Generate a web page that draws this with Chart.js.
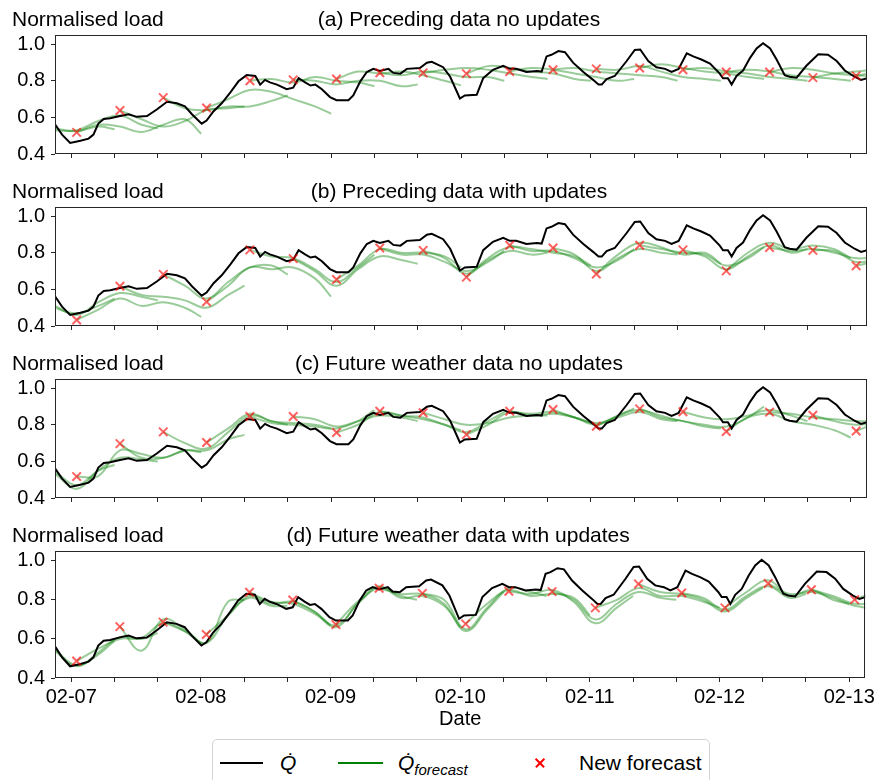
<!DOCTYPE html>
<html><head><meta charset="utf-8">
<script src="https://cdn.jsdelivr.net/npm/chart.js@4.4.1/dist/chart.umd.min.js"></script>
<style>
html,body{margin:0;padding:0;background:#fff;}
body{width:878px;height:780px;overflow:hidden;position:relative;font-family:"Liberation Sans",Arial,Helvetica,sans-serif;color:#000;}
canvas{position:absolute;left:0;}
#legend{position:absolute;left:212px;top:739px;width:498px;height:60px;border:1px solid #d3d3d3;border-radius:5px;background:#fff;box-sizing:border-box;z-index:5;}
#legend .ln{position:absolute;height:2px;top:22px;}
#legend .lt{position:absolute;top:12px;font-size:21px;line-height:21px;white-space:nowrap;}
#legend .lt sub{font-size:15px;font-style:italic;vertical-align:baseline;position:relative;top:5px;}
#legend .xm{position:absolute;left:322px;top:18px;width:10px;height:10px;}
#legend .xm:before,#legend .xm:after{content:"";position:absolute;left:-1px;top:4px;width:12px;height:1.6px;background:#ff0000;}
#legend .xm:before{transform:rotate(45deg);}
#legend .xm:after{transform:rotate(-45deg);}
</style>
</head><body>
<canvas id="pa" width="878" height="172" style="top:0px"></canvas>
<canvas id="pb" width="878" height="172" style="top:172px"></canvas>
<canvas id="pc" width="878" height="172" style="top:344px"></canvas>
<canvas id="pd" width="878" height="264" style="top:516px"></canvas>
<div id="legend">
  <div class="ln" style="left:7px;width:43px;background:#000;"></div>
  <span class="lt" style="left:67px;"><i>Q&#775;</i></span>
  <div class="ln" style="left:125px;width:45px;background:#008000;"></div>
  <span class="lt" style="left:185px;"><i>Q&#775;</i><sub>forecast</sub></span>
  <div class="xm"></div>
  <span class="lt" style="left:366px;">New forecast</span>
</div>
<script>
// ---------------- data ----------------
const dateLabels = ['02-07','02-08','02-09','02-10','02-11','02-12','02-13'];
const tickHours = [0,8,16,24,32,40,48,56,64,72,80,88,96,104,112,120,128,136,144];
const yTicks = [0.4,0.6,0.8,1.0];
const panelTitles = ['(a) Preceding data no updates','(b) Preceding data with updates','(c) Future weather data no updates','(d) Future weather data with updates'];

// actual normalised load (hours since 02-07 00:00)
const qHours = [-3,-1.7,-0.2,1.7,3.2,4.1,5.0,6.0,7.2,9.0,10.6,12.1,14.0,15.8,17.7,19.5,21.0,22.3,24.1,25.0,26.3,27.8,29.4,30.9,32.4,34.0,34.9,35.8,36.7,38.0,39.8,41.0,42.0,43.2,44.2,45.1,46.3,47.8,49.0,51.2,52.1,53.4,54.6,55.8,57.0,58.6,59.5,60.8,62.0,64.4,65.7,66.6,68.7,70.0,71.8,72.7,74.9,76.1,77.9,79.8,81.0,82.2,84.1,86.0,86.9,87.8,88.7,90.0,91.2,92.7,94.6,96.4,97.4,98.0,98.9,100.4,102.6,104.1,105.1,106.6,108.1,109.7,110.9,112.2,113.7,114.9,116.4,118.0,119.8,120.4,121.3,122.0,122.9,124.1,125.4,126.6,127.8,129.1,130.3,131.8,132.7,134.0,135.8,138.0,139.8,141.4,142.9,144.7,145.9,147];
const qLoad = [0.562,0.506,0.460,0.472,0.484,0.506,0.566,0.591,0.595,0.608,0.617,0.603,0.607,0.643,0.685,0.677,0.660,0.617,0.566,0.583,0.634,0.677,0.737,0.797,0.831,0.826,0.779,0.805,0.791,0.779,0.754,0.762,0.814,0.791,0.774,0.779,0.754,0.711,0.694,0.694,0.720,0.797,0.848,0.865,0.853,0.865,0.843,0.839,0.865,0.870,0.899,0.904,0.874,0.822,0.703,0.720,0.723,0.814,0.860,0.882,0.865,0.865,0.848,0.853,0.850,0.933,0.942,0.962,0.956,0.899,0.848,0.805,0.779,0.779,0.809,0.826,0.908,0.968,0.971,0.908,0.874,0.865,0.848,0.865,0.950,0.933,0.916,0.894,0.839,0.814,0.814,0.779,0.826,0.856,0.925,0.976,1.005,0.976,0.916,0.831,0.822,0.817,0.882,0.945,0.942,0.908,0.856,0.822,0.805,0.814];

// forecasts: issue hours, sample offsets (hours after issue)
const forecastStartHours = [-15,-7,1,9,17,25,33,41,49,57,65,73,81,89,97,105,113,121,129,137,145];
const forecastOffsetHours = [0,4,8,12,16,20,23];

const forecastsA = [
 [0.58,0.57,0.56,0.54,0.525,0.55,0.535],
 [0.55,0.53,0.53,0.58,0.61,0.56,0.54],
 [0.518,0.56,0.55,0.52,0.56,0.59,0.51],
 [0.638,0.59,0.55,0.58,0.64,0.65,0.66],
 [0.708,0.65,0.64,0.66,0.66,0.69,0.72],
 [0.651,0.70,0.75,0.74,0.70,0.66,0.62],
 [0.800,0.81,0.79,0.82,0.80,0.79,0.77],
 [0.805,0.80,0.78,0.80,0.80,0.77,0.78],
 [0.810,0.85,0.84,0.85,0.83,0.80,0.775],
 [0.844,0.83,0.85,0.84,0.82,0.82,0.80],
 [0.843,0.86,0.87,0.86,0.84,0.82,0.81],
 [0.839,0.88,0.87,0.85,0.84,0.81,0.80],
 [0.851,0.87,0.86,0.84,0.82,0.80,0.81],
 [0.860,0.87,0.85,0.84,0.83,0.82,0.80],
 [0.865,0.86,0.88,0.85,0.82,0.81,0.80],
 [0.870,0.89,0.87,0.85,0.84,0.82,0.81],
 [0.860,0.87,0.85,0.84,0.82,0.81,0.80],
 [0.848,0.86,0.85,0.83,0.82,0.81,0.80],
 [0.848,0.87,0.86,0.84,0.83,0.82,0.80],
 [0.817,0.84,0.85,0.86,0.84,0.83,0.82],
 [0.827,0.85,0.86,0.85,0.84,0.83,0.83]
];
const forecastsB = [
 [0.55,0.58,0.56,0.50,0.47,0.51,0.55],
 [0.56,0.51,0.46,0.53,0.58,0.56,0.54],
 [0.433,0.49,0.55,0.51,0.53,0.50,0.45],
 [0.617,0.57,0.56,0.54,0.50,0.57,0.62],
 [0.682,0.62,0.55,0.64,0.72,0.73,0.68],
 [0.532,0.62,0.72,0.71,0.72,0.66,0.56],
 [0.816,0.78,0.77,0.71,0.64,0.72,0.79],
 [0.768,0.70,0.62,0.71,0.78,0.76,0.74],
 [0.654,0.73,0.82,0.80,0.80,0.78,0.72],
 [0.826,0.79,0.79,0.75,0.70,0.75,0.81],
 [0.813,0.77,0.685,0.76,0.81,0.79,0.80],
 [0.667,0.77,0.83,0.82,0.80,0.78,0.73],
 [0.841,0.81,0.81,0.77,0.72,0.76,0.82],
 [0.826,0.79,0.70,0.77,0.82,0.80,0.79],
 [0.684,0.79,0.855,0.83,0.79,0.80,0.74],
 [0.841,0.82,0.80,0.79,0.73,0.77,0.83],
 [0.816,0.78,0.71,0.78,0.84,0.80,0.82],
 [0.701,0.80,0.855,0.82,0.84,0.82,0.77],
 [0.829,0.81,0.82,0.80,0.77,0.78,0.80],
 [0.813,0.81,0.75,0.77,0.82,0.84,0.84],
 [0.729,0.76,0.82,0.85,0.85,0.83,0.81]
];
const forecastsC = [
 [0.60,0.62,0.58,0.54,0.47,0.55,0.58],
 [0.58,0.53,0.45,0.55,0.62,0.61,0.60],
 [0.517,0.52,0.66,0.64,0.62,0.66,0.65],
 [0.697,0.62,0.62,0.66,0.66,0.72,0.745],
 [0.761,0.70,0.67,0.76,0.85,0.82,0.80],
 [0.703,0.78,0.86,0.82,0.81,0.80,0.78],
 [0.845,0.81,0.80,0.79,0.78,0.82,0.88],
 [0.845,0.83,0.79,0.82,0.85,0.84,0.82],
 [0.758,0.80,0.87,0.85,0.83,0.80,0.77],
 [0.874,0.85,0.84,0.80,0.76,0.82,0.87],
 [0.866,0.83,0.80,0.81,0.84,0.85,0.85],
 [0.746,0.80,0.87,0.85,0.86,0.84,0.81],
 [0.874,0.86,0.87,0.84,0.80,0.85,0.89],
 [0.883,0.84,0.81,0.84,0.87,0.83,0.82],
 [0.792,0.85,0.88,0.84,0.82,0.79,0.78],
 [0.887,0.85,0.82,0.80,0.79,0.84,0.90],
 [0.871,0.84,0.83,0.85,0.88,0.85,0.82],
 [0.763,0.84,0.86,0.82,0.80,0.77,0.73],
 [0.869,0.86,0.84,0.83,0.82,0.82,0.83],
 [0.852,0.82,0.80,0.81,0.83,0.84,0.84],
 [0.766,0.81,0.83,0.84,0.83,0.82,0.82]
];
const forecastsD = [
 [0.60,0.65,0.62,0.545,0.465,0.52,0.59],
 [0.64,0.54,0.46,0.53,0.61,0.60,0.63],
 [0.487,0.55,0.60,0.605,0.68,0.64,0.575],
 [0.663,0.54,0.70,0.65,0.58,0.79,0.80],
 [0.686,0.64,0.58,0.72,0.81,0.77,0.77],
 [0.623,0.72,0.82,0.78,0.79,0.74,0.67],
 [0.839,0.79,0.78,0.73,0.67,0.78,0.86],
 [0.799,0.74,0.66,0.78,0.86,0.82,0.80],
 [0.674,0.79,0.87,0.81,0.82,0.77,0.66],
 [0.859,0.83,0.83,0.78,0.64,0.75,0.84],
 [0.833,0.80,0.65,0.76,0.86,0.84,0.82],
 [0.677,0.78,0.85,0.82,0.83,0.81,0.72],
 [0.844,0.83,0.85,0.79,0.68,0.76,0.82],
 [0.842,0.80,0.70,0.78,0.84,0.81,0.80],
 [0.759,0.80,0.86,0.82,0.82,0.79,0.76],
 [0.881,0.84,0.83,0.80,0.74,0.81,0.86],
 [0.835,0.81,0.75,0.82,0.87,0.81,0.83],
 [0.759,0.84,0.90,0.82,0.85,0.80,0.78],
 [0.884,0.83,0.84,0.81,0.77,0.76,0.80],
 [0.852,0.82,0.78,0.79,0.84,0.85,0.83],
 [0.801,0.84,0.86,0.85,0.84,0.82,0.80]
];

// new forecast markers
const newForecastHours = [1,9,17,25,33,41,49,57,65,73,81,89,97,105,113,121,129,137,145];
const newForecastA = [0.518,0.638,0.708,0.651,0.800,0.805,0.810,0.844,0.843,0.839,0.851,0.860,0.865,0.870,0.860,0.848,0.848,0.817,0.827];
const newForecastB = [0.433,0.617,0.682,0.532,0.816,0.768,0.654,0.826,0.813,0.667,0.841,0.826,0.684,0.841,0.816,0.701,0.829,0.813,0.729];
const newForecastC = [0.517,0.697,0.761,0.703,0.845,0.845,0.758,0.874,0.866,0.746,0.874,0.883,0.792,0.887,0.871,0.763,0.869,0.852,0.766];
const newForecastD = [0.487,0.663,0.686,0.623,0.839,0.799,0.674,0.859,0.833,0.677,0.844,0.842,0.759,0.881,0.835,0.759,0.884,0.852,0.801];

// ---------------- drawing ----------------
const FONT = '"Liberation Sans", Arial, Helvetica, sans-serif';
Chart.defaults.font.family = FONT;
Chart.defaults.color = '#000';

const frameAndTitles = {
  id: 'frameAndTitles',
  afterDraw(chart, args, opts) {
    const {ctx, chartArea: a} = chart;
    ctx.save();
    ctx.strokeStyle = '#262626';
    ctx.lineWidth = 1;
    ctx.strokeRect(Math.round(a.left) + 0.5, Math.round(a.top) + 0.5, Math.round(a.right - a.left) - 1, Math.round(a.bottom - a.top) - 1);
    ctx.fillStyle = '#000';
    ctx.font = '21px ' + FONT;
    ctx.textBaseline = 'alphabetic';
    ctx.textAlign = 'left';
    ctx.fillText('Normalised load', 12, a.top - 9);
    ctx.textAlign = 'center';
    ctx.fillText(opts.title, (a.left + a.right) / 2 - 2, a.top - 9);
    ctx.restore();
  }
};

function makePanel(id, title, forecasts, markers, isLast) {
  const datasets = [];
  datasets.push({
    label: 'New forecast',
    data: newForecastHours.map((h, i) => ({x: h, y: markers[i]})),
    showLine: false,
    pointStyle: 'crossRot',
    pointRadius: 6,
    pointBorderWidth: 2,
    pointBorderColor: 'rgba(255,0,0,0.62)',
    pointBackgroundColor: 'rgba(255,0,0,0.62)',
    order: 0
  });
  datasets.push({
    label: 'Q',
    data: qHours.map((h, i) => ({x: h, y: qLoad[i]})),
    borderColor: '#000',
    borderWidth: 2,
    pointRadius: 0,
    tension: 0,
    order: 1
  });
  forecasts.forEach((vals, k) => {
    datasets.push({
      label: 'Q forecast',
      data: forecastOffsetHours.map((o, i) => ({x: forecastStartHours[k] + o, y: vals[i]})),
      borderColor: 'rgba(0,128,0,0.4)',
      borderWidth: 2,
      pointRadius: 0,
      tension: 0.4,
      order: 2
    });
  });

  const gridCfg = {display: true, drawOnChartArea: false, drawTicks: true, tickLength: 4, color: '#262626', lineWidth: 1};

  return new Chart(document.getElementById(id), {
    type: 'line',
    data: {datasets},
    options: {
      responsive: false,
      animation: false,
      events: [],
      layout: {padding: {top: 35, right: 11, left: 0, bottom: 0}},
      plugins: {
        legend: {display: false},
        tooltip: {enabled: false},
        frameAndTitles: {title}
      },
      scales: {
        x: {
          type: 'linear',
          min: -3,
          max: 147,
          afterBuildTicks: s => { s.ticks = tickHours.map(v => ({value: v})); },
          afterFit: s => { s.height = isLast ? 102 : 10; },
          grid: gridCfg,
          border: {display: false},
          ticks: {
            autoSkip: false, maxRotation: 0, minRotation: 0, padding: 3,
            color: '#000', font: {size: 20},
            callback: v => (isLast && v % 24 === 0) ? dateLabels[v / 24] : ''
          },
          title: {display: isLast, text: 'Date', color: '#000', font: {size: 20}, padding: {top: 0, bottom: 49}}
        },
        y: {
          min: 0.4,
          max: 1.05,
          afterBuildTicks: s => { s.ticks = yTicks.map(v => ({value: v})); },
          afterFit: s => { s.width = 55; },
          grid: gridCfg,
          border: {display: false},
          ticks: {padding: 6, color: '#000', font: {size: 20}, callback: v => Number(v).toFixed(1)}
        }
      }
    },
    plugins: [frameAndTitles]
  });
}

makePanel('pa', panelTitles[0], forecastsA, newForecastA, false);
makePanel('pb', panelTitles[1], forecastsB, newForecastB, false);
makePanel('pc', panelTitles[2], forecastsC, newForecastC, false);
makePanel('pd', panelTitles[3], forecastsD, newForecastD, true);
</script>
</body></html>
